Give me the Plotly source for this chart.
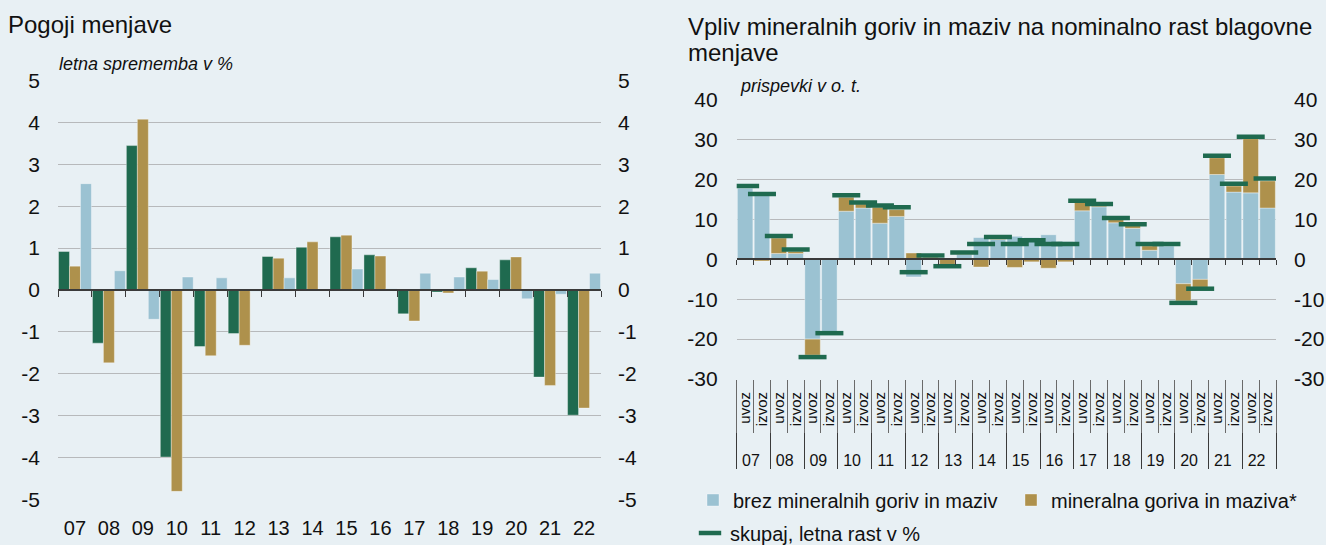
import plotly.graph_objects as go

# ---------------- data ----------------
years = ['07', '08', '09', '10', '11', '12', '13', '14', '15', '16', '17', '18', '19', '20', '21', '22']

# left panel: Pogoji menjave (letna sprememba v %)
terms_green = [0.92, -1.27, 3.45, -3.99, -1.35, -1.04, 0.80, 1.02, 1.27, 0.84, -0.57, -0.05, 0.53, 0.72, -2.08, -2.99]
terms_gold = [0.57, -1.74, 4.08, -4.81, -1.57, -1.32, 0.76, 1.15, 1.31, 0.81, -0.74, -0.07, 0.45, 0.79, -2.28, -2.82]
terms_blue = [2.54, 0.46, -0.70, 0.31, 0.29, -0.03, 0.29, 0.0, 0.50, 0.03, 0.40, 0.31, 0.25, -0.21, -0.10, 0.40]

# right panel: prispevki v o. t. (uvoz, izvoz per year)
flows = ['uvoz', 'izvoz']
excl_fuel = [17.9, 16.0, 1.5, 1.5, -20.0, -18.1, 12.1, 12.9, 9.1, 10.8, -4.4, 0.4, 0.1, 1.25, 5.5, 5.0,
             5.8, 5.5, 6.2, 4.5, 12.2, 13.2, 9.2, 7.8, 2.3, 3.4, -6.1, -5.0, 21.3, 16.9, 16.7, 12.9]
fuel = [0.3, -0.4, 3.85, 0.5, -4.0, -0.3, 3.5, 1.0, 4.0, 1.7, 1.6, 0.3, -1.25, 0.1, -1.9, 0.3,
        -2.0, -0.6, -2.2, -0.6, 2.1, 0.3, 0.8, 0.7, 1.1, 0.1, -4.3, -2.0, 4.2, 1.5, 13.6, 6.8]
total = [18.4, 16.4, 5.85, 2.5, -24.5, -18.5, 16.1, 14.3, 13.5, 13.1, -3.2, 1.0, -1.7, 1.75, 3.85, 5.6,
         3.85, 4.8, 3.9, 3.9, 14.7, 13.9, 10.4, 8.8, 3.9, 3.9, -10.9, -7.35, 26.0, 19.0, 30.8, 20.3]

names = ['brez mineralnih goriv in maziv', 'mineralna goriva in maziva*', 'skupaj, letna rast v %']

left_ticks = [-5, -4, -3, -2, -1, 0, 1, 2, 3, 4, 5]
right_ticks = [-30, -20, -10, 0, 10, 20, 30, 40]

# ---------------- style ----------------
GREEN = '#1f6a4f'
GOLD = '#ae914c'
BLUE = '#9bc2d2'
BG = '#e8f0f4'
GRID = '#b7b9bb'
AXIS = '#3a3a3a'
FONT = 'Liberation Sans, Arial, sans-serif'
TXT = '#111111'

W, H = 1326, 545
def fx(px):
    return px / W
def fy(px):
    return 1 - px / H

L_X = [fx(58), fx(601)]
L_Y = [fy(499.3), fy(80.7)]
R_X = [fx(736.7), fx(1276)]
R_Y = [fy(379), fy(100)]
L_RANGE = [-5, 5]
R_RANGE = [-30, 40]

def zero_pos(dom, rng):
    return dom[0] + (dom[1] - dom[0]) * (0 - rng[0]) / (rng[1] - rng[0])

year_lbl = ['<br><span style="font-size:16px">%s</span>' % y for y in years]
x_mc = [[yl for yl in year_lbl for _ in flows], [f for _ in years for f in flows]]
n_bars = len(x_mc[0])
n_years = len(years)
idx_left = list(range(n_years))
idx_right = list(range(n_bars))

fig = go.Figure()
edge = dict(color='rgba(255,255,255,0.45)', width=0.8)

for vals, col, grp in [(terms_green, GREEN, 'a'), (terms_gold, GOLD, 'b'), (terms_blue, BLUE, 'c')]:
    fig.add_trace(go.Bar(x=years, y=vals, marker=dict(color=col, line=edge), offsetgroup=grp,
                         xaxis='x', yaxis='y', showlegend=False))

fig.add_trace(go.Bar(x=x_mc, y=excl_fuel, name=names[0], marker=dict(color=BLUE, line=edge),
                     offsetgroup='r', width=0.92, xaxis='x2', yaxis='y3', legend='legend'))
fig.add_trace(go.Bar(x=x_mc, y=fuel, name=names[1], marker=dict(color=GOLD, line=edge),
                     offsetgroup='r', width=0.92, xaxis='x2', yaxis='y3', legend='legend3'))
fig.add_trace(go.Scatter(x=x_mc, y=total, name=names[2], mode='markers',
                         marker=dict(symbol='line-ew', size=20, line=dict(color=GREEN, width=4.5)),
                         xaxis='x2', yaxis='y3', legend='legend2'))

# invisible traces that bind the helper axes (right-hand labels, zero lines, label-area ticks)
ghost = dict(mode='markers', marker=dict(opacity=0, size=1), showlegend=False, hoverinfo='skip')
fig.add_trace(go.Scatter(x=years, y=terms_green, xaxis='x', yaxis='y2', **ghost))
fig.add_trace(go.Scatter(x=idx_left, y=terms_green, xaxis='x3', yaxis='y', **ghost))
fig.add_trace(go.Scatter(x=x_mc, y=total, xaxis='x2', yaxis='y4', **ghost))
fig.add_trace(go.Scatter(x=idx_right, y=total, xaxis='x4', yaxis='y3', **ghost))
fig.add_trace(go.Scatter(x=idx_right, y=total, xaxis='x5', yaxis='y3', **ghost))

ytick_font = dict(family=FONT, size=21, color=TXT)
left_cat_range = [-0.5, n_years - 0.5]
right_cat_range = [-0.5, n_bars - 0.5]

fig.update_layout(
    width=W, height=H,
    margin=dict(l=0, r=0, t=0, b=0, autoexpand=False),
    paper_bgcolor=BG, plot_bgcolor=BG,
    barmode='relative', bargap=0.03,
    hovermode=False,
    xaxis=dict(domain=L_X, anchor='y', type='category', range=left_cat_range, showgrid=False, ticks='',
               showline=False, tickfont=dict(family=FONT, size=20, color=TXT), ticklabelstandoff=15,
               automargin=False),
    xaxis3=dict(domain=L_X, overlaying='x', anchor='free', position=zero_pos(L_Y, L_RANGE),
                range=left_cat_range, tickvals=[i - 0.5 for i in range(n_years + 1)],
                ticks='outside', ticklen=6, tickcolor=AXIS, showline=True, linecolor=AXIS, linewidth=1.5,
                showticklabels=False, showgrid=False, zeroline=False, automargin=False),
    yaxis=dict(domain=L_Y, anchor='x', range=L_RANGE, tickvals=left_ticks,
               ticktext=[str(v) for v in left_ticks], gridcolor=GRID, zeroline=False,
               ticks='', tickfont=ytick_font, ticklabelstandoff=17, automargin=False),
    yaxis2=dict(domain=L_Y, anchor='x', overlaying='y', side='right', range=L_RANGE, tickvals=left_ticks,
                ticktext=[str(v) for v in left_ticks], showgrid=False, zeroline=False, ticks='',
                tickfont=ytick_font, ticklabelstandoff=16, automargin=False),
    xaxis2=dict(domain=R_X, anchor='y3', type='multicategory', range=right_cat_range, showgrid=False,
                tickmode='linear', tick0=0, dtick=1,
                ticks='', showline=False, tickangle=-90, tickfont=dict(family=FONT, size=15, color=TXT),
                ticklabelstandoff=9, showdividers=True, dividercolor=AXIS, dividerwidth=1,
                automargin=False),
    xaxis4=dict(domain=R_X, overlaying='x2', anchor='y3', range=right_cat_range,
                tickvals=[i - 0.5 for i in range(n_bars + 1)], ticks='outside', ticklen=53,
                tickcolor='#6a6a6a', showticklabels=False, showgrid=False, zeroline=False, showline=False,
                automargin=False),
    xaxis5=dict(domain=R_X, overlaying='x2', anchor='free', position=zero_pos(R_Y, R_RANGE),
                range=right_cat_range, tickvals=[i - 0.5 for i in range(n_bars + 1)],
                ticks='outside', ticklen=5, tickcolor=AXIS, showline=True, linecolor=AXIS, linewidth=1.5,
                showticklabels=False, showgrid=False, zeroline=False, automargin=False),
    yaxis3=dict(domain=R_Y, anchor='x2', range=R_RANGE, tickvals=right_ticks,
                ticktext=[str(v) for v in right_ticks], gridcolor=GRID, zeroline=False,
                ticks='', tickfont=ytick_font, ticklabelstandoff=18, automargin=False),
    yaxis4=dict(domain=R_Y, anchor='x2', overlaying='y3', side='right', range=R_RANGE, tickvals=right_ticks,
                ticktext=[str(v) for v in right_ticks], showgrid=False, zeroline=False,
                ticks='', tickfont=ytick_font, ticklabelstandoff=17, automargin=False),
    showlegend=True,
)

leg_common = dict(orientation='h', xref='container', yref='container', xanchor='left', yanchor='middle',
                  font=dict(family=FONT, size=20, color=TXT), bgcolor='rgba(0,0,0,0)')
fig.update_layout(
    legend=dict(x=fx(693), y=fy(500), **leg_common),
    legend3=dict(x=fx(1011), y=fy(500), **leg_common),
    legend2=dict(x=fx(690), y=fy(533), **leg_common),
)

ann = [
    dict(text='Pogoji menjave', x=fx(6), y=fy(25), font=dict(family=FONT, size=24, color=TXT)),
    dict(text='letna sprememba v %', x=fx(57), y=fy(64), font=dict(family=FONT, size=18, color=TXT, style='italic')),
    dict(text='Vpliv mineralnih goriv in maziv na nominalno rast blagovne', x=fx(686), y=fy(26),
         font=dict(family=FONT, size=24, color=TXT)),
    dict(text='menjave', x=fx(686), y=fy(53), font=dict(family=FONT, size=24, color=TXT)),
    dict(text='prispevki v o. t.', x=fx(738), y=fy(86), font=dict(family=FONT, size=18, color=TXT, style='italic')),
]
for a in ann:
    fig.add_annotation(xref='paper', yref='paper', xanchor='left', yanchor='middle', showarrow=False, **a)

fig.write_html('out.html', config={'displayModeBar': False},
               post_script="document.body.style.margin='0px';")
